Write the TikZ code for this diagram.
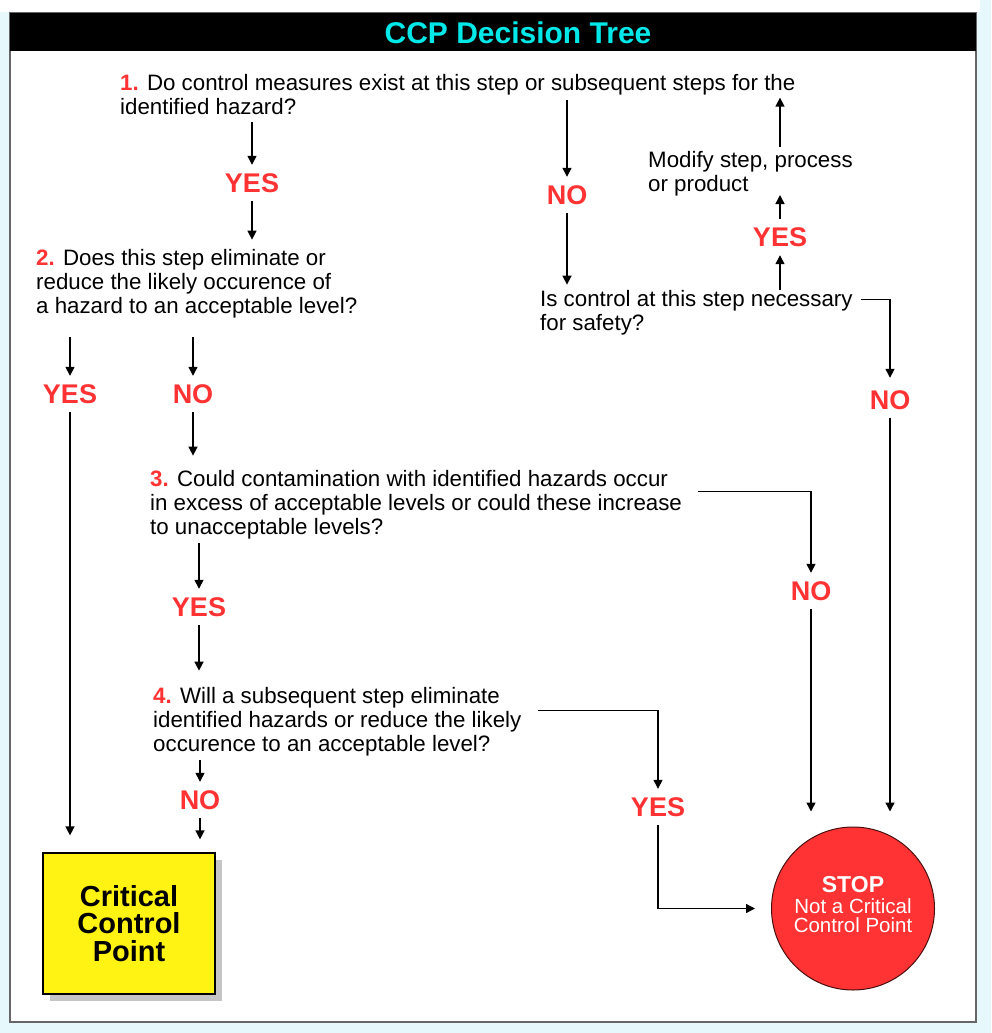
\documentclass[tikz,border=0pt]{standalone}
\usepackage{fontspec}
\setmainfont{Liberation Sans}
\usetikzlibrary{arrows.meta,shadows}

\definecolor{ansred}{RGB}{255,51,51}
\definecolor{ccpyellow}{RGB}{255,243,20}
\definecolor{titlecyan}{RGB}{0,232,232}
\definecolor{pagecyan}{RGB}{230,248,252}

\newcommand{\qnum}[1]{\textcolor{ansred}{\textbf{#1}}}

\tikzset{
    question/.style={anchor=base west, align=left, inner sep=0pt,
        font=\fontsize{22.3}{24}\selectfont},
    answer/.style={inner sep=0pt, minimum height=36pt, text=ansred,
        font=\fontsize{27}{30}\selectfont\bfseries},
    arr/.style={-{Triangle[length=9pt,width=9pt]}, line width=1.4pt},
    ccpbox/.style={draw=black, line width=1.2pt, fill=ccpyellow,
        minimum width=172pt, minimum height=141pt, align=center,
        drop shadow={shadow xshift=7pt, shadow yshift=-7pt, fill=black!45, opacity=.5},
        font=\fontsize{29}{27.5}\selectfont\bfseries},
    stopsign/.style={circle, draw=black!70!ansred, line width=1pt, fill=ansred,
        minimum size=163pt, inner sep=0pt, align=center, text=white, text depth=8pt,
        font=\fontsize{20.5}{19}\selectfont},
}

\begin{document}
\begin{tikzpicture}[x=1pt,y=-1pt]
    % page, frame and title bar
    \useasboundingbox (0,0) rectangle (991,1033);
    \fill[pagecyan] (0,0) rectangle (991,1033);
    \fill[white] (0,0) rectangle (980,12);
    \draw[draw=black!60, line width=2pt, fill=white] (10,13) rectangle (976,1022);
    \fill[black] (10,13) rectangle (976,51);
    \node[text=titlecyan, font=\fontsize{30}{32}\selectfont\bfseries] (title) at (518,33)
            {CCP Decision Tree};

    % questions (placed at the baseline of their last line)
    \node[question] (q1) at (120,114)
            {\qnum{1.} Do control measures exist at this step or subsequent steps for the\\
            identified hazard?};
    \node[question] (q2) at (36,313)
            {\qnum{2.} Does this step eliminate or\\
            reduce the likely occurence of\\
            a hazard to an acceptable level?};
    \node[question] (q1b) at (540,330)
            {Is control at this step necessary\\
            for safety?};
    \node[question] (modify) at (648,191)
            {Modify step, process\\
            or product};
    \node[question] (q3) at (150,534)
            {\qnum{3.} Could contamination with identified hazards occur\\
            in excess of acceptable levels or could these increase\\
            to unacceptable levels?};
    \node[question] (q4) at (153,751)
            {\qnum{4.} Will a subsequent step eliminate\\
            identified hazards or reduce the likely\\
            occurence to an acceptable level?};

    % answers
    \node[answer] (yes1) at (252,183) {YES};
    \node[answer] (no1) at (567,195) {NO};
    \node[answer] (yes5) at (780,237) {YES};
    \node[answer] (no2) at (890,400) {NO};
    \node[answer] (yes2) at (70,394) {YES};
    \node[answer] (no3) at (193,394) {NO};
    \node[answer] (no4) at (811,591) {NO};
    \node[answer] (yes3) at (199,607) {YES};
    \node[answer] (no5) at (200,800) {NO};
    \node[answer] (yes4) at (658,807) {YES};

    % outcomes
    \node[ccpbox] (ccp) at (129,923.5)
            {Critical\\Control\\Point};
    \node[stopsign] (stop) at (853,908.5)
            {{\fontsize{23}{23}\selectfont\bfseries STOP}\\[2pt]
            Not a Critical\\
            Control Point};

    % question 1
    \draw[arr, shorten <=8pt] (yes1 |- q1.south) -- (yes1);
    \draw[arr, shorten >=9pt] (yes1) -- (yes1 |- q2.north);
    \draw[arr, shorten <=26pt] (no1 |- q1.north) -- (no1);
    \draw[arr, shorten >=5pt] (no1) -- (no1 |- q1b.north);
    \draw[arr] (yes5 |- q1b.north) -- (yes5);
    \draw[arr, shorten >=4pt] (yes5) -- (yes5 |- modify.base);
    \draw[arr, shorten <=4pt, shorten >=24pt] (yes5 |- modify.north) -- (yes5 |- q1.north);
    \draw[arr, shorten >=4pt] ([xshift=8pt,yshift=-10pt]q1b.north east) -| (no2);
    \draw[arr, shorten >=15pt] (no2) -- (no2 |- stop.north);

    % question 2
    \draw[arr, shorten <=19pt] (yes2 |- q2.south) -- (yes2);
    \draw[arr, shorten <=19pt] (no3 |- q2.south) -- (no3);
    \draw[arr, shorten >=17pt] (yes2) -- (yes2 |- ccp.north);
    \draw[arr, shorten >=14pt] (no3) -- (no3 |- q3.north);

    % question 3
    \draw[arr] ([xshift=16pt,yshift=-22pt]q3.north east) -| (no4);
    \draw[arr, shorten >=15pt] (no4) -- (no4 |- stop.north);
    \draw[arr, shorten <=4pt] (yes3 |- q3.south) -- (yes3);
    \draw[arr, shorten >=16pt] (yes3) -- (yes3 |- q4.north);

    % question 4
    \draw[arr] ([xshift=16pt,yshift=-24pt]q4.north east) -| (yes4);
    \draw[arr, shorten >=16pt] (yes4) |- (stop);
    \draw[arr, shorten <=4pt] (no5 |- q4.south) -- (no5);
    \draw[arr, shorten >=13pt] (no5) -- (no5 |- ccp.north);
\end{tikzpicture}
\end{document}
